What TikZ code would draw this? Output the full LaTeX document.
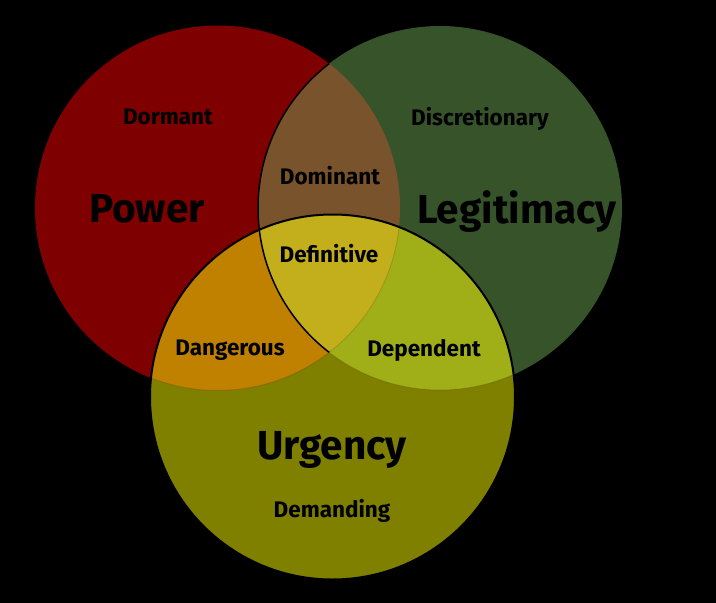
\documentclass[tikz,border=0pt]{standalone}
\usepackage{fontspec}
\setmainfont{Fira Sans}
\newfontfamily\bigfont{Fira Sans}
\newfontfamily\smallfont{Fira Sans}
\definecolor{cpow}{HTML}{7F0000}
\definecolor{cleg}{HTML}{36532A}
\definecolor{curg}{HTML}{7F7F00}
\definecolor{cdom}{HTML}{79532C}
\definecolor{cdef}{HTML}{C3AF1C}
\definecolor{cdan}{HTML}{C08000}
\definecolor{cdep}{HTML}{A0AE18}
\begin{document}
\begin{tikzpicture}[x=1pt,y=-1pt,
  small/.style={font=\smallfont\bfseries\fontsize{22.5}{25}\selectfont, text=black, inner sep=0pt},
  big/.style={font=\bigfont\bfseries\fontsize{40.5}{44}\selectfont, text=black, inner sep=0pt}]
\fill[black] (0,0) rectangle (716,603);
\useasboundingbox (0,0) rectangle (716,603);
\def\P{(217.5,208) circle[radius=182.5]}
\def\L{(440,208) circle[radius=182]}
\def\U{(332.5,397) circle[radius=182.5]}
\fill[cpow] \P;
\fill[cleg] \L;
\fill[curg] \U;
\begin{scope}\clip \P; \fill[cdom] \L; \fill[cdan] \U; \end{scope}
\begin{scope}\clip \L; \fill[cdep] \U; \end{scope}
\begin{scope}\clip \P; \clip \L; \fill[cdef] \U; \end{scope}
% inner boundaries
\begin{scope}\clip \P; \draw[black, line width=1.5pt] \L; \end{scope}
\begin{scope}\clip \U; \draw[black, opacity=0.12, line width=1pt] \L; \draw[black, opacity=0.12, line width=1pt] \P; \end{scope}
\draw[black, line width=2pt] \U;
% labels
\node[small] (dormant) at (168,117) {Dormant};
\node[small] (discr) at (480,119) {Discretionary};
\node[small] (dominant) at (330,176) {Dominant};
\node[small] (definitive) at (329,254) {Definitive};
\node[small] (dangerous) at (230,350) {Dangerous};
\node[small] (dependent) at (424,350) {Dependent};
\node[small] (demanding) at (332,511) {Demanding};
\node[big] (power) at (147,209) {Power};
\node[big] (legit) at (517,212) {Legitimacy};
\node[big] (urgency) at (332,450) {Urgency};
\end{tikzpicture}
\end{document}
